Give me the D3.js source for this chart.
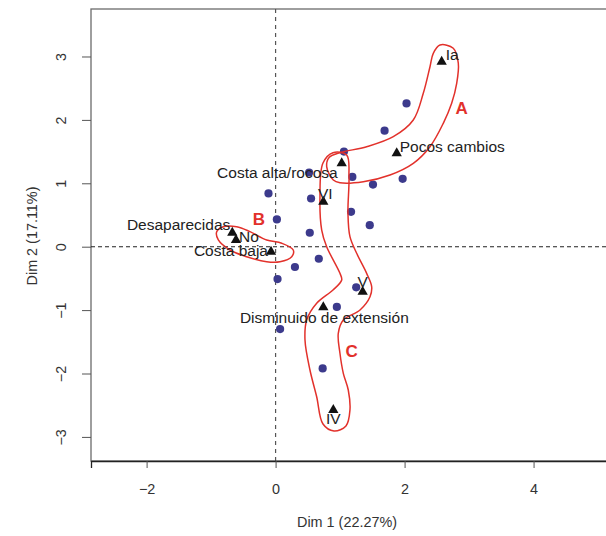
<!DOCTYPE html>
<html>
<head>
<meta charset="utf-8">
<script src="https://cdn.jsdelivr.net/npm/d3@7"></script>
<style>
  html, body { margin: 0; padding: 0; background: #fff; }
  svg { display: block; font-family: "Liberation Sans", Arial, Helvetica, sans-serif; }
</style>
</head>
<body>
<svg id="chart" width="606" height="536"></svg>
<script>
// MCA factor map: individuals (blue dots), categories (black triangles),
// and three hand-drawn groupings (A, B, C).

const xTicks = [-2, 0, 2, 4];
const yTicks = [-3, -2, -1, 0, 1, 2, 3];

// individuals [dim1, dim2]
const individuals = [
  [2.03, 2.26], [1.69, 1.83], [1.06, 1.50], [0.52, 1.17], [-0.11, 0.84],
  [0.55, 0.76], [1.19, 1.10], [1.51, 0.98], [1.97, 1.07], [1.17, 0.55],
  [1.46, 0.34], [0.02, 0.43], [0.53, 0.22], [0.67, -0.19], [0.30, -0.32],
  [0.03, -0.51], [1.25, -0.64], [0.95, -0.95], [0.07, -1.30], [0.73, -1.92]
];

// categories
const catNames = ["Ia", "Pocos cambios", "Costa alta/rocosa", "VI", "Desaparecidas",
                  "No", "Costa baja", "V", "Disminuido de extensión", "IV"];
const catX = [2.575, 1.878, 1.025, 0.74, -0.671, -0.614, -0.071, 1.35, 0.74, 0.895];
const catY = [2.918, 1.473, 1.315, 0.71, 0.221, 0.106, -0.079, -0.71, -0.956, -2.576];

// where each label sits relative to its triangle
const labelPlace = {
  "Ia":                      { anchor: "start",  dx: 4,  dy: -7 },
  "Pocos cambios":           { anchor: "start",  dx: 3,  dy: -7 },
  "Costa alta/rocosa":       { anchor: "end",    dx: -4, dy: 9 },
  "VI":                      { anchor: "middle", dx: 2,  dy: -8 },
  "Desaparecidas":           { anchor: "end",    dx: -2, dy: -8 },
  "No":                      { anchor: "start",  dx: 3,  dy: -3 },
  "Costa baja":              { anchor: "end",    dx: -3, dy: -1 },
  "V":                       { anchor: "middle", dx: 0,  dy: -10 },
  "Disminuido de extensión": { anchor: "middle", dx: 1,  dy: 10 },
  "IV":                      { anchor: "middle", dx: 0,  dy: 8 }
};

// group outlines, in data units
const groupA = [
  [2.549, 3.181], [2.755, 3.129], [2.833, 2.893], [2.808, 2.577], [2.730, 2.262],
  [2.600, 1.946], [2.394, 1.577], [2.135, 1.315], [1.774, 1.131], [1.360, 1.025],
  [0.998, 1.009], [0.895, 1.052], [0.792, 1.262], [0.833, 1.410], [0.998, 1.483],
  [1.412, 1.577], [1.825, 1.735], [2.135, 1.998], [2.290, 2.420], [2.394, 2.839],
  [2.445, 3.050]
];
const groupB = [
  [-0.913, 0.237], [-0.811, 0.315], [-0.603, 0.315], [-0.397, 0.237], [-0.138, 0.106],
  [0.095, 0.054], [0.274, -0.052], [0.250, -0.158], [0.068, -0.237], [-0.138, -0.237],
  [-0.448, -0.158], [-0.707, -0.052], [-0.888, 0.106]
];
const groupC = [
  [0.890, 1.483], [1.102, 1.446], [1.138, 1.104], [1.122, 0.532], [1.153, 0.158],
  [1.257, -0.104], [1.412, -0.420], [1.490, -0.631], [1.464, -0.789], [1.309, -0.998],
  [1.050, -1.156], [0.972, -1.366], [0.998, -1.681], [1.050, -1.997], [1.127, -2.260],
  [1.153, -2.576], [1.091, -2.828], [0.905, -2.907], [0.735, -2.797], [0.637, -2.366],
  [0.533, -1.945], [0.456, -1.472], [0.482, -1.156], [0.637, -0.893], [0.890, -0.683],
  [1.025, -0.525], [0.998, -0.420], [0.792, 0.0], [0.715, 0.263], [0.688, 0.789],
  [0.735, 1.320]
];
const groupNames = ["A", "B", "C"];
const groupLabelX = [2.885, -0.26, 1.18];
const groupLabelY = [2.183, 0.43, -1.656];

const xTitle = "Dim 1 (22.27%)";
const yTitle = "Dim 2 (17.11%)";

// ── layout ─────────────────────────────────────────────────────────────
const plotL = 91, plotR = 612, plotT = 9, plotB = 461;
const svg = d3.select("#chart");

const x = d3.scaleLinear().domain([-2.862, 5.216]).range([plotL, plotR]);
const y = d3.scaleLinear().domain([-3.38, 3.749]).range([plotB, plotT]);

const RED = "#e2312b";
const DOT = "#3c3a8c";

// box (top border in gray, R style)
svg.append("rect")
  .attr("x", plotL).attr("y", plotT)
  .attr("width", plotR - plotL).attr("height", plotB - plotT)
  .attr("fill", "none").attr("stroke", "#6b6b6b").attr("stroke-width", 1.3);

// reference lines
svg.append("line")
  .attr("x1", x(0)).attr("x2", x(0)).attr("y1", plotT).attr("y2", plotB)
  .attr("stroke", "#555").attr("stroke-width", 1.2).attr("stroke-dasharray", "4,4");
svg.append("line")
  .attr("x1", plotL).attr("x2", plotR).attr("y1", y(0)).attr("y2", y(0))
  .attr("stroke", "#222").attr("stroke-width", 1.1).attr("stroke-dasharray", "4,3");

// axes
const xAxis = svg.append("g")
  .attr("transform", `translate(0,${plotB})`)
  .call(d3.axisBottom(x).tickValues(xTicks).tickSize(7).tickPadding(16)
    .tickFormat(d => d < 0 ? "\u2212" + Math.abs(d) : d));
xAxis.select(".domain").attr("stroke", "#222").attr("stroke-width", 1.3);
xAxis.selectAll(".tick line").attr("stroke", "#555");
xAxis.selectAll("text").attr("font-size", 14.4).attr("fill", "#333")
  .attr("font-family", "Liberation Sans, Arial, sans-serif");

const yAxis = svg.append("g")
  .attr("transform", `translate(${plotL},0)`)
  .call(d3.axisLeft(y).tickValues(yTicks).tickSize(9).tickSizeOuter(0)
    .tickFormat(d => d < 0 ? "\u2212" + Math.abs(d) : d));
yAxis.select(".domain").remove();
yAxis.selectAll(".tick line").attr("stroke", "#555");
yAxis.selectAll("text")
  .attr("font-size", 14.4).attr("fill", "#333")
  .attr("font-family", "Liberation Sans, Arial, sans-serif")
  .attr("text-anchor", "middle")
  .attr("x", 0).attr("dy", 0)
  .attr("transform", "translate(-30,0) rotate(-90)")
  .attr("dominant-baseline", "central");

// axis titles
svg.append("text")
  .attr("x", 347).attr("y", 527)
  .attr("text-anchor", "middle").attr("font-size", 14.4).attr("fill", "#333")
  .text(xTitle);
svg.append("text")
  .attr("transform", `translate(37,${236}) rotate(-90)`)
  .attr("text-anchor", "middle").attr("font-size", 14.4).attr("fill", "#333")
  .text(yTitle);

// individuals
svg.append("g").selectAll("circle")
  .data(individuals)
  .join("circle")
  .attr("cx", d => x(d[0]))
  .attr("cy", d => y(d[1]))
  .attr("r", 4.1)
  .attr("fill", DOT);

// group outlines
const outline = d3.line()
  .x(d => x(d[0])).y(d => y(d[1]))
  .curve(d3.curveCatmullRomClosed.alpha(0.5));
svg.append("g").selectAll("path")
  .data([groupA, groupB, groupC])
  .join("path")
  .attr("d", outline)
  .attr("fill", "none")
  .attr("stroke", RED)
  .attr("stroke-width", 1.5);

// categories
const cats = catNames.map((name, i) => ({ name, x: catX[i], y: catY[i] }));
const tri = d3.symbol().type(d3.symbolTriangle).size(46);
svg.append("g").selectAll("path")
  .data(cats)
  .join("path")
  .attr("transform", d => `translate(${x(d.x)},${y(d.y)})`)
  .attr("d", tri)
  .attr("fill", "#111");

svg.append("g").selectAll("text")
  .data(cats)
  .join("text")
  .attr("x", d => x(d.x) + labelPlace[d.name].dx)
  .attr("y", d => y(d.y) + labelPlace[d.name].dy)
  .attr("text-anchor", d => labelPlace[d.name].anchor)
  .attr("dominant-baseline", "central")
  .attr("font-size", 15.5)
  .attr("fill", "#222")
  .text(d => d.name);

// group letters
svg.append("g").selectAll("text")
  .data(groupNames)
  .join("text")
  .attr("x", (d, i) => x(groupLabelX[i]))
  .attr("y", (d, i) => y(groupLabelY[i]))
  .attr("text-anchor", "middle")
  .attr("dominant-baseline", "central")
  .attr("font-size", 17)
  .attr("font-weight", "bold")
  .attr("fill", RED)
  .text(d => d);
</script>
</body>
</html>
